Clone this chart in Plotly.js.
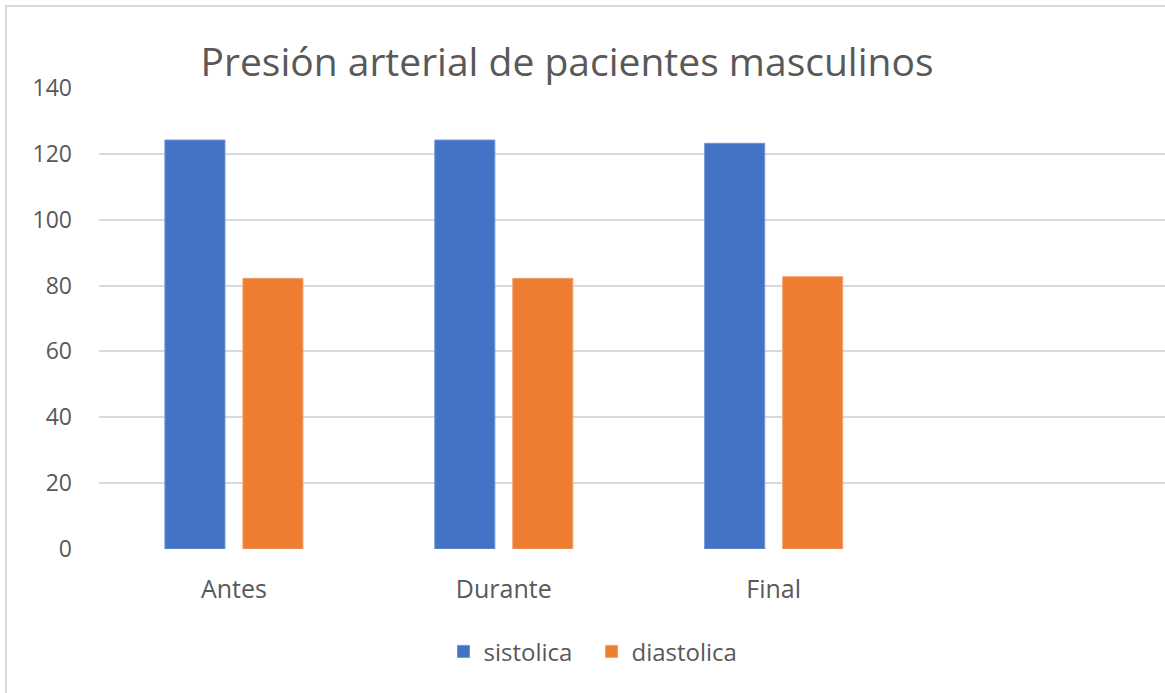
<!DOCTYPE html>
<html>
<head>
<meta charset="utf-8">
<script src="https://cdn.plot.ly/plotly-3.0.1.min.js"></script>
<style>
  html, body { margin: 0; padding: 0; background: #fff; overflow: hidden; }
  #chart { position: absolute; left: 0; top: 0; width: 1165px; height: 693px; }
  #frame { position: absolute; left: 5px; top: 5px; width: 1170px; height: 700px;
           border-left: 2px solid #d9d9d9; border-top: 2px solid #d9d9d9; pointer-events: none; }
</style>
</head>
<body>
<div id="chart"></div>
<div id="frame"></div>
<script>
const categories = ["Antes", "Durante", "Final"];
const sistolica = [124.2, 124.2, 123.2];
const diastolica = [82.2, 82.2, 82.7];
const seriesNames = ["sistolica", "diastolica"];
const yTicks = [0, 20, 40, 60, 80, 100, 120, 140];

const fontFam = "'Open Sans', Lato, sans-serif";
const traces = [
  { type: "bar", name: seriesNames[0], x: categories, y: sistolica,
    marker: { color: "#4472C4", line: { color: "#6f93d6", width: 1 } }, hoverinfo: "none" },
  { type: "bar", name: seriesNames[1], x: categories, y: diastolica,
    marker: { color: "#ED7D31", line: { color: "#f2a070", width: 1 } }, hoverinfo: "none" }
];

const layout = {
  width: 1165, height: 693,
  margin: { l: 99, r: 0, t: 88, b: 144 },
  paper_bgcolor: "#ffffff", plot_bgcolor: "#ffffff",
  font: { family: fontFam, color: "#595959", size: 19 },
  title: { text: "Presión arterial de pacientes masculinos",
           font: { family: fontFam, size: 39, color: "#595959" },
           x: (567 - 99) / 1066, xanchor: "center", xref: "paper",
           y: 1 - 62 / 693, yanchor: "middle", yref: "container" },
  barmode: "group", bargap: 0.422, bargroupgap: 0.23,
  showlegend: true,
  legend: { orientation: "h", x: 0.462, xanchor: "center", y: -0.223, yanchor: "middle",
            font: { family: fontFam, size: 24, color: "#595959" }, traceorder: "normal",
            itemwidth: 30, entrywidth: 103, entrywidthmode: "pixels" },
  xaxis: { type: "category", range: [-0.5, 3.45], showgrid: false, zeroline: false,
           showline: false, ticks: "", ticklabelstandoff: 23,
           tickfont: { family: fontFam, size: 25, color: "#595959" }, fixedrange: true },
  yaxis: { range: [0, 140], tickvals: yTicks, showgrid: true, gridcolor: "#d9d9d9", gridwidth: 2,
           zeroline: false, showline: false, ticks: "", ticklabelstandoff: 26,
           tickfont: { family: fontFam, size: 23, color: "#595959" }, fixedrange: true }
};

Plotly.newPlot("chart", traces, layout, { displayModeBar: false, staticPlot: true });
</script>
</body>
</html>
